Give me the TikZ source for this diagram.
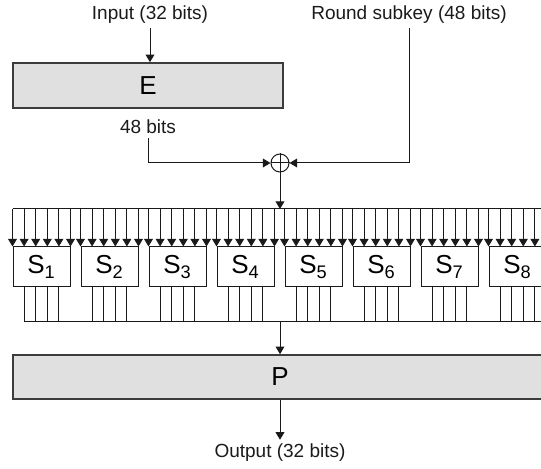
\documentclass[tikz,border=0pt]{standalone}
\usepackage{fontspec}
\setmainfont{Liberation Sans}
\usetikzlibrary{arrows.meta,calc}
\definecolor{ink}{HTML}{1A1A1A}
\definecolor{boxfill}{HTML}{E0E0E0}
\definecolor{edge}{HTML}{3C3C3C}

\begin{document}
\begin{tikzpicture}[
  x=0.5pt, y=-0.5pt,
  font=\fontsize{9.5}{11}\selectfont,
  wide/.style  = {draw=edge, line width=0.8pt, fill=boxfill, inner sep=0pt,
                  font=\fontsize{13}{15}\selectfont},
  sbox/.style  = {draw=ink, line width=0.5pt, fill=white, inner sep=0pt,
                  minimum width=28.5pt, minimum height=20pt,
                  font=\fontsize{13}{15}\selectfont},
  xorop/.style = {draw=ink, line width=0.5pt, circle, minimum size=9pt, inner sep=0pt},
  arr/.style   = {-{Triangle[length=3.8pt,width=4.4pt]}, draw=ink, line width=0.5pt},
  wire/.style  = {draw=ink, line width=0.5pt},
  lab/.style   = {text=ink, inner sep=2pt},
]
\clip (0,0) rectangle (541,469);

% ---------- expansion and key mixing ----------
\node[lab] (input) at (150,15) {Input (32 bits)};
\node[lab] (key) at (409,15) {Round subkey (48 bits)};
\node[wide, minimum width=135pt, minimum height=22.5pt] (ebox) at (148,85.5) {E};
\node[lab] (bits48) at (148,127) {48 bits};
\node[xorop] (xor) at (280,163) {};
\draw[wire] (xor.north) -- (xor.south) (xor.west) -- (xor.east);

\draw[arr] (input.south) -- (input.south |- ebox.north);
\draw[arr] (bits48.south) |- (xor.west);
\draw[arr] (key.south) |- (xor.east);

% ---------- substitution boxes ----------
\coordinate (bus) at (13,209);
\coordinate (obus) at (25,322);
\foreach \i in {1,...,8} {
  \node[sbox] (s\i) at ({41.5+68*(\i-1)},267) {S\textsubscript{\i}};
}
\draw[arr] (xor.south) -- (xor.south |- bus);
\draw[wire] (s1.north west |- bus) -- (s8.north east |- bus);
\foreach \i in {1,...,8} {
  \foreach \j in {0,...,5} {
    \coordinate (in\i-\j) at ($(s\i.north west)!\j/5!(s\i.north east)$);
    \draw[arr] (in\i-\j |- bus) -- (in\i-\j);
  }
  \foreach \k in {1,...,4} {
    \coordinate (out\i-\k) at ($(s\i.south west)!\k/5!(s\i.south east)$);
    \draw[wire] (out\i-\k) -- (out\i-\k |- obus);
  }
}
\draw[wire] (out1-1 |- obus) -- (s8.south east |- obus);

% ---------- permutation ----------
\node[wide, minimum width=267pt, minimum height=22pt] (pbox) at (280,377) {P};
\node[lab] (output) at (280,453) {Output (32 bits)};
\draw[arr] (pbox.north |- obus) -- (pbox.north);
\draw[arr] (pbox.south) -- (output.north);

\end{tikzpicture}
\end{document}
